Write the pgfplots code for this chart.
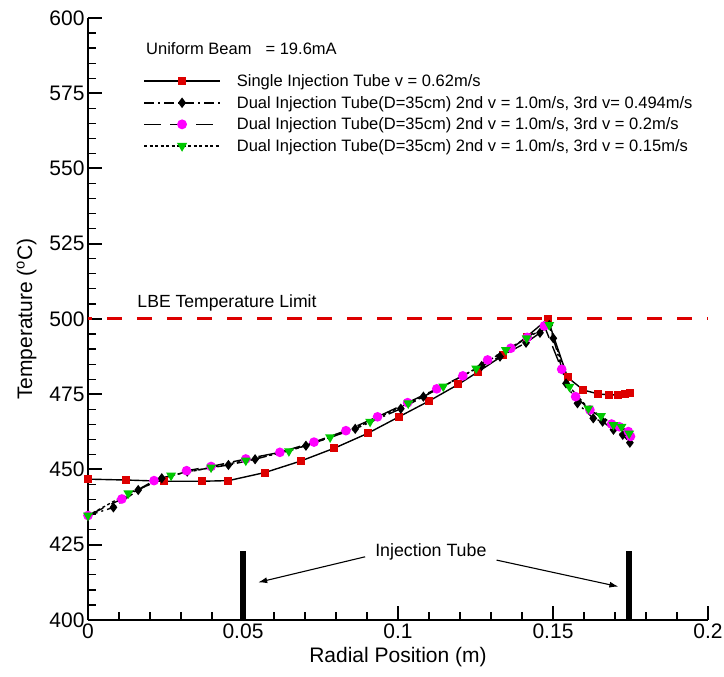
\documentclass[border=0pt]{standalone}
\usepackage{fontspec}
\setmainfont{Liberation Sans}
\usepackage{pgfplots}
\pgfplotsset{compat=1.18}
\usetikzlibrary{arrows.meta}
\definecolor{lbered}{RGB}{221,0,0}
\definecolor{mkgreen}{RGB}{0,200,0}
\definecolor{mkmag}{RGB}{255,0,255}

\begin{document}
\begin{tikzpicture}
\begin{axis}[
  scale only axis, width=620bp, height=602bp,
  xmin=0, xmax=0.2, ymin=400, ymax=600,
  axis x line=bottom, axis y line=left,
  axis line style={line width=2.5bp, -},
  xtick={0,0.05,0.1,0.15,0.2}, xticklabels={0,0.05,0.1,0.15,0.2},
  ytick={400,425,450,475,500,525,550,575,600},
  yticklabels={400,425,450,475,500,525,550,575,600},
  minor x tick num=4, minor y tick num=4,
  tick align=inside, major tick length=14bp, minor tick length=8bp,
  every major tick/.style={line width=2bp, black},
  every minor tick/.style={line width=1.2bp, black},
  tick label style={font=\fontsize{21bp}{25bp}\selectfont},
  label style={font=\fontsize{21bp}{25bp}\selectfont},
  xlabel={Radial Position (m)},
  ylabel={Temperature (\textsuperscript{o}C)},
  ylabel shift=6bp, xlabel shift=2bp,
  legend cell align=left,
  legend style={at={(0.084,0.913)}, anchor=north west, draw=none, fill=none,
    font=\fontsize{16.5bp}{19bp}\selectfont, row sep=4.1bp, column sep=14bp},
  legend image code/.code={\draw[mark repeat=2,mark phase=2, line width=1.6bp]
    plot coordinates {(0bp,0bp)(38bp,0bp)(76bp,0bp)};},
]
% LBE limit
\addplot[lbered, line width=3bp, dash pattern=on 15bp off 15bp, dash phase=11bp, forget plot]
  coordinates {(0,500)(0.2,500)};
% injection tubes
\addplot[black, line width=6bp, forget plot] coordinates {(0.05,400)(0.05,423)};
\addplot[black, line width=6bp, forget plot] coordinates {(0.1745,400)(0.1745,423)};

\addplot[black, line width=1.4bp, mark=square*, mark size=3.3bp,
  mark options={fill=lbered, draw=lbered}] coordinates {
  (0,446.8)(0.0123,446.5)(0.0245,446.1)(0.0367,446.1)(0.0453,446.3)
  (0.0571,449.0)(0.0686,452.8)(0.0795,457.1)(0.0902,462.0)(0.1003,467.5)
  (0.1101,472.8)(0.1195,478.3)(0.1259,482.5)(0.1340,488.0)(0.1415,494.1)
  (0.1483,500.0)(0.1547,480.6)(0.1598,476.4)(0.1646,475.1)(0.1682,474.8)
  (0.1711,474.8)(0.1732,475.0)(0.1748,475.3)};
\addlegendentry{Single Injection Tube v = 0.62m/s}

\addplot[black, line width=1.4bp, dash pattern=on 10bp off 4bp on 2bp off 4bp,
  mark=diamond*, mark size=4bp, mark options={solid, fill=black}] coordinates {
  (0,434.7)(0.0082,437.4)(0.0162,443.2)(0.0238,447.1)(0.0320,449.3)
  (0.0453,451.5)(0.0539,453.4)(0.0703,457.9)(0.0862,463.5)(0.1009,470.2)
  (0.1082,474.2)(0.1270,484.4)(0.1329,487.5)(0.1413,492.1)(0.1458,495.4)
  (0.1488,498.0)(0.1501,493.6)(0.1542,478.6)(0.1579,472.0)(0.1630,467.0)
  (0.1660,465.9)(0.1695,463.2)(0.1725,461.5)(0.1748,458.9)};
\addlegendentry{Dual Injection Tube(D=35cm) 2nd v = 1.0m/s, 3rd v= 0.494m/s}

\addplot[black, line width=1.4bp, dash pattern=on 17bp off 9bp,
  mark=*, mark size=4.1bp, mark options={solid, fill=mkmag, draw=mkmag}] coordinates {
  (0,434.7)(0.0109,440.2)(0.0213,446.3)(0.0318,449.6)(0.0397,451.0)
  (0.0509,453.5)(0.0619,455.7)(0.0729,459.1)(0.0832,462.9)(0.0934,467.5)
  (0.1031,472.2)(0.1125,476.8)(0.1209,481.1)(0.1289,486.4)(0.1364,490.3)
  (0.1417,493.9)(0.1472,497.7)(0.1528,483.3)(0.1573,474.2)(0.1619,469.8)
  (0.1689,465.1)(0.1714,464.2)(0.1743,462.6)(0.1750,461.0)};
\addlegendentry{Dual Injection Tube(D=35cm) 2nd v = 1.0m/s, 3rd v = 0.2m/s}

\addplot[black, line width=1.4bp, dash pattern=on 3bp off 2.5bp,
  mark=triangle*, mark size=4.3bp, mark options={solid, rotate=180, fill=mkgreen, draw=mkgreen}] coordinates {
  (0,434.7)(0.0130,442.1)(0.0268,448.0)(0.0397,450.7)(0.0509,453.0)
  (0.0648,456.1)(0.0781,460.7)(0.0910,465.9)(0.1033,472.0)(0.1146,477.6)
  (0.1252,483.6)(0.1348,489.7)(0.1415,493.6)(0.1488,498.0)(0.1553,477.5)
  (0.1614,470.3)(0.1655,467.8)(0.1695,464.8)(0.1721,464.2)(0.1746,462.0)};
\addlegendentry{Dual Injection Tube(D=35cm) 2nd v = 1.0m/s, 3rd v = 0.15m/s}

\node[anchor=west, font=\fontsize{16.5bp}{19bp}\selectfont, inner sep=0pt]
  at (axis cs:0.0187,589.7) {Uniform Beam\hspace{14bp}= 19.6mA};
\node[anchor=west, font=\fontsize{17.6bp}{20bp}\selectfont, inner sep=0pt]
  at (axis cs:0.0159,505.2) {LBE Temperature Limit};
\node[font=\fontsize{17.8bp}{20bp}\selectfont, inner sep=0pt]
  at (axis cs:0.1106,422.6) {Injection Tube};
\draw[-{Latex[length=9bp,width=6bp]}, line width=1.1bp]
  (axis cs:0.0894,421.0) -- (axis cs:0.0549,412.5);
\draw[-{Latex[length=9bp,width=6bp]}, line width=1.1bp]
  (axis cs:0.1318,419.9) -- (axis cs:0.1711,411.1);

\coordinate (bl) at (rel axis cs:0,0);
\coordinate (tr) at (rel axis cs:1,1);
\end{axis}
\pgfresetboundingbox
\path ([shift={(-88bp,-57bp)}]bl) rectangle ([shift={(16bp,18bp)}]tr);
\end{tikzpicture}
\end{document}
